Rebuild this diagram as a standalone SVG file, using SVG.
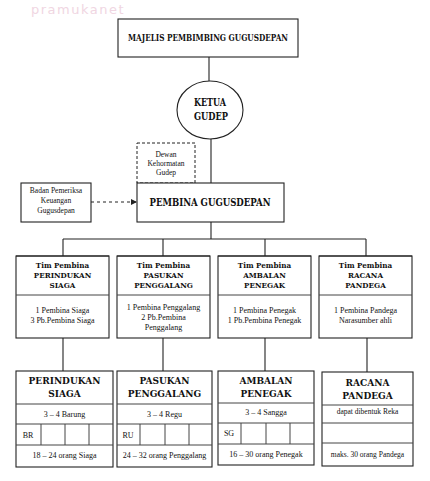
<svg xmlns="http://www.w3.org/2000/svg" width="430" height="481" viewBox="0 0 430 481" font-family="'Liberation Serif', 'Times New Roman', serif">
<style>
.box{fill:#fff;stroke:#222;stroke-width:1.1}
.dash{fill:#fff;stroke:#222;stroke-width:1;stroke-dasharray:3,2}
.ln{stroke:#222;stroke-width:1.1;fill:none}
.sep{stroke:#444;stroke-width:1;fill:none}
text{font-family:'Liberation Serif','Times New Roman',serif;fill:#111;text-anchor:middle}
text.wm{font-family:'DejaVu Sans',sans-serif;font-size:13px;fill:#f0d6e2;letter-spacing:1.5px}
text.b{font-family:'DejaVu Serif Condensed','DejaVu Serif',serif;font-weight:bold}
.t9{font-size:8.5px}
.t11{font-size:11px}
.t8{font-size:8px}
.t7{font-size:7.5px}
.t10{font-size:10px}
.h8{font-size:8px}
</style>
<defs>
<marker id="arr" markerWidth="6" markerHeight="6" refX="5" refY="3" orient="auto" markerUnits="userSpaceOnUse">
<path d="M0,0 L6,3 L0,6 Z" fill="#222"/>
</marker>
</defs>
<rect width="430" height="481" fill="#fff"/>
<text class="wm" x="78" y="14">pramukanet</text>

<g id="connectors">
<line class="ln" x1="209" y1="57" x2="209" y2="81"/>
<line class="ln" x1="211" y1="139" x2="211" y2="183"/>
<line class="ln" x1="211" y1="222" x2="211" y2="239"/>
<line class="ln" x1="63" y1="239" x2="366" y2="239"/>
<line class="ln" x1="63" y1="239" x2="63" y2="256"/>
<line class="ln" x1="163" y1="239" x2="163" y2="256"/>
<line class="ln" x1="265" y1="239" x2="265" y2="256"/>
<line class="ln" x1="366" y1="239" x2="366" y2="256"/>
<line class="ln" x1="63" y1="338" x2="63" y2="371"/>
<line class="ln" x1="163" y1="338" x2="163" y2="371"/>
<line class="ln" x1="265" y1="338" x2="265" y2="371"/>
<line class="ln" x1="367" y1="338" x2="367" y2="372"/>
<line x1="91" y1="202" x2="136" y2="202" stroke="#222" stroke-width="1" stroke-dasharray="3,3" marker-end="url(#arr)"/>
</g>

<g id="majelis">
<rect class="box" x="118" y="19" width="180" height="38"/>
<text class="b t9" x="208" y="40.5" textLength="160" lengthAdjust="spacingAndGlyphs">MAJELIS PEMBIMBING GUGUSDEPAN</text>
</g>

<g id="ketua">
<ellipse class="box" cx="210" cy="110" rx="33" ry="29"/>
<text class="b t11" x="210" y="106" textLength="32" lengthAdjust="spacingAndGlyphs">KETUA</text>
<text class="b t11" x="211" y="120" textLength="34" lengthAdjust="spacingAndGlyphs">GUDEP</text>
</g>

<g id="dewan">
<rect class="dash" x="137" y="143" width="58" height="40"/>
<text class="t7" x="166" y="157">Dewan</text>
<text class="t7" x="166" y="166">Kehormatan</text>
<text class="t7" x="166" y="175">Gudep</text>
</g>

<g id="badan">
<rect class="box" x="21" y="183" width="70" height="39"/>
<text class="t7" x="56" y="193">Badan Pemeriksa</text>
<text class="t7" x="56" y="203">Keuangan</text>
<text class="t7" x="56" y="213">Gugusdepan</text>
</g>

<g id="pembina">
<rect class="box" x="137" y="183" width="147" height="39"/>
<text class="b t11" x="210" y="206" textLength="121" lengthAdjust="spacingAndGlyphs">PEMBINA GUGUSDEPAN</text>
</g>

<g id="tim-siaga">
<rect class="box" x="16" y="256" width="93" height="82"/>
<line class="ln" x1="16" y1="256" x2="109" y2="256" stroke-width="2"/>
<line class="sep" x1="16" y1="295" x2="109" y2="295"/>
<text class="b h8" x="62.5" y="268">Tim Pembina</text>
<text class="b h8" x="62.5" y="278">PERINDUKAN</text>
<text class="b h8" x="62.5" y="288">SIAGA</text>
<text class="t8" x="62.5" y="313">1 Pembina Siaga</text>
<text class="t8" x="62.5" y="323">3 Pb.Pembina Siaga</text>
</g>

<g id="tim-penggalang">
<rect class="box" x="117" y="256" width="93" height="82"/>
<line class="ln" x1="117" y1="256" x2="210" y2="256" stroke-width="2"/>
<line class="sep" x1="117" y1="295" x2="210" y2="295"/>
<text class="b h8" x="163.5" y="268">Tim Pembina</text>
<text class="b h8" x="163.5" y="278">PASUKAN</text>
<text class="b h8" x="163.5" y="288">PENGGALANG</text>
<text class="t8" x="163.5" y="310">1 Pembina Penggalang</text>
<text class="t8" x="163.5" y="320">2 Pb.Pembina</text>
<text class="t8" x="163.5" y="330">Penggalang</text>
</g>

<g id="tim-penegak">
<rect class="box" x="218" y="256" width="93" height="82"/>
<line class="ln" x1="218" y1="256" x2="311" y2="256" stroke-width="2"/>
<line class="sep" x1="218" y1="295" x2="311" y2="295"/>
<text class="b h8" x="264.5" y="268">Tim Pembina</text>
<text class="b h8" x="264.5" y="278">AMBALAN</text>
<text class="b h8" x="264.5" y="288">PENEGAK</text>
<text class="t8" x="264.5" y="313">1 Pembina Penegak</text>
<text class="t8" x="264.5" y="323">1 Pb.Pembina Penegak</text>
</g>

<g id="tim-pandega">
<rect class="box" x="319" y="256" width="93" height="82"/>
<line class="ln" x1="319" y1="256" x2="412" y2="256" stroke-width="2"/>
<line class="sep" x1="319" y1="295" x2="412" y2="295"/>
<text class="b h8" x="365.5" y="268">Tim Pembina</text>
<text class="b h8" x="365.5" y="278">RACANA</text>
<text class="b h8" x="365.5" y="288">PANDEGA</text>
<text class="t8" x="365.5" y="313">1 Pembina Pandega</text>
<text class="t8" x="365.5" y="323">Narasumber ahli</text>
</g>

<g id="siaga">
<rect class="box" x="16" y="371" width="97" height="96"/>
<line class="sep" x1="16" y1="404" x2="113" y2="404"/>
<line class="sep" x1="16" y1="424" x2="113" y2="424"/>
<line class="sep" x1="16" y1="445" x2="113" y2="445"/>
<line class="sep" x1="41" y1="424" x2="41" y2="445"/>
<line class="sep" x1="65" y1="424" x2="65" y2="445"/>
<line class="sep" x1="89" y1="424" x2="89" y2="445"/>
<text class="b t10" x="64.5" y="384">PERINDUKAN</text>
<text class="b t10" x="64.5" y="397">SIAGA</text>
<text class="t8" x="64.5" y="417">3 – 4  Barung</text>
<text class="t8" x="28" y="438">BR</text>
<text class="t8" x="64.5" y="458">18 – 24 orang Siaga</text>
</g>

<g id="penggalang">
<rect class="box" x="117" y="371" width="95" height="96"/>
<line class="sep" x1="117" y1="404" x2="212" y2="404"/>
<line class="sep" x1="117" y1="424" x2="212" y2="424"/>
<line class="sep" x1="117" y1="445" x2="212" y2="445"/>
<line class="sep" x1="140" y1="424" x2="140" y2="445"/>
<line class="sep" x1="165" y1="424" x2="165" y2="445"/>
<line class="sep" x1="189" y1="424" x2="189" y2="445"/>
<text class="b t10" x="164.5" y="384">PASUKAN</text>
<text class="b t10" x="164.5" y="397">PENGGALANG</text>
<text class="t8" x="164.5" y="417">3 – 4  Regu</text>
<text class="t8" x="128" y="438">RU</text>
<text class="t8" x="164.5" y="458">24 – 32 orang Penggalang</text>
</g>

<g id="penegak">
<rect class="box" x="218" y="371" width="96" height="94"/>
<line class="sep" x1="218" y1="403" x2="314" y2="403"/>
<line class="sep" x1="218" y1="423" x2="314" y2="423"/>
<line class="sep" x1="218" y1="444" x2="314" y2="444"/>
<line class="sep" x1="241" y1="423" x2="241" y2="444"/>
<line class="sep" x1="266" y1="423" x2="266" y2="444"/>
<line class="sep" x1="290" y1="423" x2="290" y2="444"/>
<text class="b t10" x="266" y="384">AMBALAN</text>
<text class="b t10" x="266" y="397">PENEGAK</text>
<text class="t8" x="266" y="415">3 – 4   Sangga</text>
<text class="t8" x="229" y="436">SG</text>
<text class="t8" x="266" y="457">16 – 30 orang Penegak</text>
</g>

<g id="pandega">
<rect class="box" x="322" y="372" width="91" height="94"/>
<line class="sep" x1="322" y1="405" x2="413" y2="405"/>
<line class="sep" x1="322" y1="423" x2="413" y2="423"/>
<line class="sep" x1="322" y1="443" x2="413" y2="443"/>
<text class="b t10" x="367.5" y="386">RACANA</text>
<text class="b t10" x="367.5" y="399">PANDEGA</text>
<text class="t7" x="367.5" y="414">dapat dibentuk Reka</text>
<text class="t7" x="367.5" y="457">maks. 30 orang Pandega</text>
</g>
</svg>
